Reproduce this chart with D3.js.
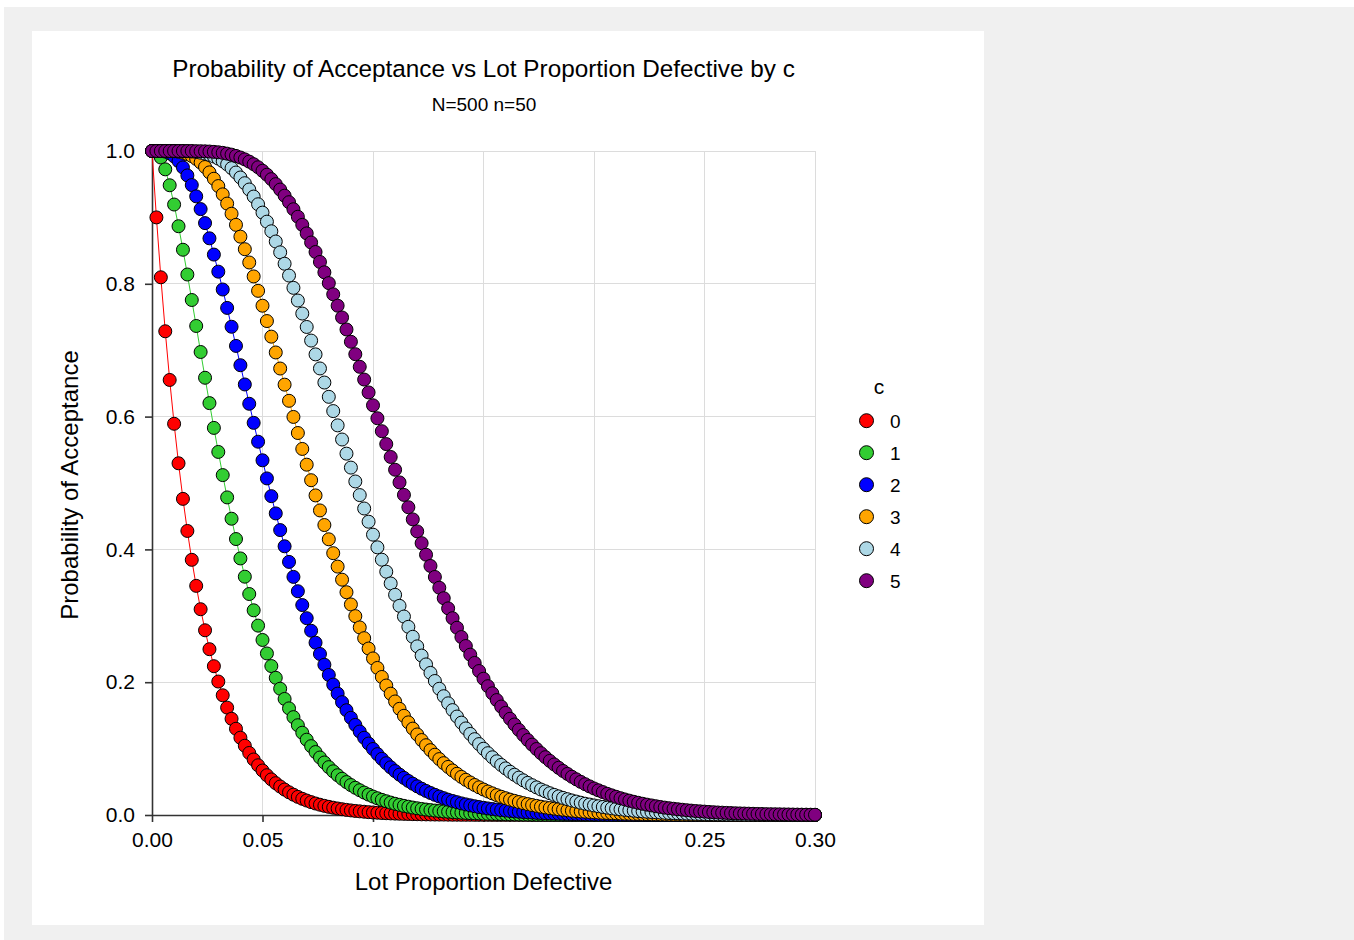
<!DOCTYPE html>
<html><head><meta charset="utf-8">
<script src="https://cdn.jsdelivr.net/npm/d3@7"></script>
<style>body{margin:0;background:#fff}svg{display:block}text{font-family:"Liberation Sans",Arial,sans-serif;fill:#000}</style>
</head><body><svg id="c" width="1354" height="940"></svg>
<script>
// Lot proportion defective (x values)
const p = [
0,0.002,0.004,0.006,0.008,0.01,0.012,0.014,0.016,0.018,
0.02,0.022,0.024,0.026,0.028,0.03,0.032,0.034,0.036,0.038,
0.04,0.042,0.044,0.046,0.048,0.05,0.052,0.054,0.056,0.058,
0.06,0.062,0.064,0.066,0.068,0.07,0.072,0.074,0.076,0.078,
0.08,0.082,0.084,0.086,0.088,0.09,0.092,0.094,0.096,0.098,
0.1,0.102,0.104,0.106,0.108,0.11,0.112,0.114,0.116,0.118,
0.12,0.122,0.124,0.126,0.128,0.13,0.132,0.134,0.136,0.138,
0.14,0.142,0.144,0.146,0.148,0.15,0.152,0.154,0.156,0.158,
0.16,0.162,0.164,0.166,0.168,0.17,0.172,0.174,0.176,0.178,
0.18,0.182,0.184,0.186,0.188,0.19,0.192,0.194,0.196,0.198,
0.2,0.202,0.204,0.206,0.208,0.21,0.212,0.214,0.216,0.218,
0.22,0.222,0.224,0.226,0.228,0.23,0.232,0.234,0.236,0.238,
0.24,0.242,0.244,0.246,0.248,0.25,0.252,0.254,0.256,0.258,
0.26,0.262,0.264,0.266,0.268,0.27,0.272,0.274,0.276,0.278,
0.28,0.282,0.284,0.286,0.288,0.29,0.292,0.294,0.296,0.298,
0.3];
const c0 = [
1,0.9,0.8098,0.7285,0.6552,0.5892,0.5297,0.4761,0.4278,0.3843,
0.3451,0.3099,0.2782,0.2497,0.2241,0.2010,0.1803,0.1617,0.1449,0.1299,
0.1164,0.1043,0.0934,0.0836,0.0749,0.0670,0.0599,0.0536,0.0479,0.0429,
0.0383,0.0342,0.0306,0.0273,0.0244,0.0218,0.0194,0.0173,0.0155,0.0138,
0.0123,0.0110,0.0098,0.0087,0.0077,0.0069,0.0061,0.0055,0.0049,0.0043,
0.0038,0.0034,0.0030,0.0027,0.0024,0.0021,0.0019,0.0017,0.0015,0.0013,
0.0012,0.0010,0.0009,0.0008,0.0007,0.0006,0.0006,0.0005,0.0004,0.0004,
0.0003,0.0003,0.0003,0.0002,0.0002,0.0002,0.0002,0.0001,0.0001,0.0001,
0.0001,0.0001,0.0001,0.0001,0.0001,0.0001,0,0,0,0,
0,0,0,0,0,0,0,0,0,0,
0,0,0,0,0,0,0,0,0,0,
0,0,0,0,0,0,0,0,0,0,
0,0,0,0,0,0,0,0,0,0,
0,0,0,0,0,0,0,0,0,0,
0,0,0,0,0,0,0,0,0,0,
0];
const c1 = [
1,1,0.9902,0.9724,0.9484,0.9194,0.8867,0.8513,0.8140,0.7756,
0.7365,0.6973,0.6585,0.6203,0.5830,0.5468,0.5119,0.4783,0.4462,0.4156,
0.3864,0.3589,0.3328,0.3083,0.2852,0.2636,0.2433,0.2243,0.2066,0.1902,
0.1748,0.1606,0.1474,0.1352,0.1239,0.1134,0.1037,0.0948,0.0866,0.0791,
0.0721,0.0658,0.0599,0.0546,0.0496,0.0451,0.0410,0.0373,0.0338,0.0307,
0.0278,0.0252,0.0228,0.0207,0.0187,0.0169,0.0153,0.0138,0.0125,0.0112,
0.0101,0.0091,0.0082,0.0074,0.0067,0.0060,0.0054,0.0049,0.0044,0.0039,
0.0035,0.0032,0.0028,0.0025,0.0023,0.0020,0.0018,0.0016,0.0015,0.0013,
0.0012,0.0010,0.0009,0.0008,0.0007,0.0007,0.0006,0.0005,0.0005,0.0004,
0.0004,0.0003,0.0003,0.0003,0.0002,0.0002,0.0002,0.0002,0.0001,0.0001,
0.0001,0.0001,0.0001,0.0001,0.0001,0.0001,0.0001,0,0,0,
0,0,0,0,0,0,0,0,0,0,
0,0,0,0,0,0,0,0,0,0,
0,0,0,0,0,0,0,0,0,0,
0,0,0,0,0,0,0,0,0,0,
0];
const c2 = [
1,1,1,0.9991,0.9965,0.9918,0.9848,0.9753,0.9632,0.9487,
0.9317,0.9125,0.8914,0.8685,0.8440,0.8183,0.7914,0.7637,0.7353,0.7065,
0.6774,0.6484,0.6193,0.5906,0.5622,0.5342,0.5069,0.4802,0.4542,0.4291,
0.4047,0.3812,0.3586,0.3370,0.3162,0.2964,0.2775,0.2595,0.2425,0.2263,
0.2109,0.1964,0.1828,0.1699,0.1578,0.1464,0.1357,0.1257,0.1163,0.1076,
0.0994,0.0917,0.0846,0.0780,0.0718,0.0661,0.0608,0.0559,0.0513,0.0471,
0.0432,0.0396,0.0363,0.0332,0.0304,0.0278,0.0254,0.0231,0.0211,0.0193,
0.0175,0.0160,0.0145,0.0132,0.0120,0.0109,0.0099,0.0090,0.0082,0.0074,
0.0067,0.0061,0.0055,0.0050,0.0045,0.0041,0.0037,0.0033,0.0030,0.0027,
0.0024,0.0022,0.0020,0.0018,0.0016,0.0014,0.0013,0.0012,0.0010,0.0009,
0.0008,0.0007,0.0007,0.0006,0.0005,0.0005,0.0004,0.0004,0.0003,0.0003,
0.0003,0.0002,0.0002,0.0002,0.0002,0.0002,0.0001,0.0001,0.0001,0.0001,
0.0001,0.0001,0.0001,0.0001,0.0001,0,0,0,0,0,
0,0,0,0,0,0,0,0,0,0,
0,0,0,0,0,0,0,0,0,0,
0];
const c3 = [
1,1,1,1,0.9999,0.9996,0.9989,0.9975,0.9954,0.9924,
0.9881,0.9827,0.9759,0.9678,0.9582,0.9472,0.9347,0.9208,0.9055,0.8888,
0.8710,0.8521,0.8321,0.8111,0.7894,0.7670,0.7439,0.7204,0.6966,0.6724,
0.6481,0.6238,0.5995,0.5753,0.5513,0.5276,0.5042,0.4813,0.4587,0.4367,
0.4152,0.3943,0.3741,0.3544,0.3355,0.3171,0.2995,0.2825,0.2663,0.2507,
0.2358,0.2215,0.2079,0.1950,0.1827,0.1710,0.1599,0.1494,0.1395,0.1301,
0.1213,0.1129,0.1051,0.0977,0.0908,0.0842,0.0781,0.0724,0.0671,0.0621,
0.0574,0.0530,0.0490,0.0452,0.0417,0.0384,0.0354,0.0326,0.0299,0.0275,
0.0253,0.0232,0.0213,0.0195,0.0179,0.0164,0.0150,0.0137,0.0125,0.0114,
0.0104,0.0095,0.0087,0.0079,0.0072,0.0065,0.0059,0.0054,0.0049,0.0045,
0.0040,0.0037,0.0033,0.0030,0.0027,0.0025,0.0022,0.0020,0.0018,0.0016,
0.0015,0.0013,0.0012,0.0011,0.0010,0.0009,0.0008,0.0007,0.0006,0.0006,
0.0005,0.0005,0.0004,0.0004,0.0003,0.0003,0.0003,0.0002,0.0002,0.0002,
0.0002,0.0001,0.0001,0.0001,0.0001,0.0001,0.0001,0.0001,0.0001,0.0001,
0.0001,0,0,0,0,0,0,0,0,0,
0];
const c4 = [
1,1,1,1,1,1,1,0.9999,0.9997,0.9993,
0.9985,0.9975,0.9961,0.9942,0.9917,0.9886,0.9847,0.9799,0.9742,0.9676,
0.9601,0.9515,0.9420,0.9314,0.9198,0.9072,0.8936,0.8791,0.8637,0.8474,
0.8302,0.8124,0.7939,0.7748,0.7552,0.7350,0.7145,0.6937,0.6725,0.6513,
0.6298,0.6083,0.5868,0.5655,0.5442,0.5232,0.5023,0.4818,0.4616,0.4417,
0.4222,0.4031,0.3845,0.3664,0.3487,0.3316,0.3150,0.2989,0.2834,0.2684,
0.2540,0.2401,0.2268,0.2140,0.2018,0.1901,0.1789,0.1682,0.1580,0.1483,
0.1391,0.1304,0.1221,0.1142,0.1068,0.0998,0.0931,0.0869,0.0809,0.0754,
0.0702,0.0652,0.0606,0.0563,0.0522,0.0484,0.0449,0.0416,0.0384,0.0356,
0.0328,0.0303,0.0280,0.0258,0.0238,0.0219,0.0202,0.0185,0.0170,0.0157,
0.0144,0.0132,0.0121,0.0111,0.0101,0.0093,0.0085,0.0078,0.0071,0.0065,
0.0059,0.0054,0.0049,0.0045,0.0041,0.0037,0.0034,0.0030,0.0028,0.0025,
0.0023,0.0021,0.0019,0.0017,0.0015,0.0014,0.0012,0.0011,0.0010,0.0009,
0.0008,0.0007,0.0007,0.0006,0.0005,0.0005,0.0004,0.0004,0.0004,0.0003,
0.0003,0.0002,0.0002,0.0002,0.0002,0.0001,0.0001,0.0001,0.0001,0.0001,
0.0001];
const c5 = [
1,1,1,1,1,1,1,1,1,1,
0.9998,0.9997,0.9995,0.9992,0.9987,0.9981,0.9972,0.9960,0.9945,0.9926,
0.9902,0.9874,0.9840,0.9801,0.9755,0.9702,0.9643,0.9576,0.9501,0.9419,
0.9327,0.9229,0.9123,0.9010,0.8888,0.8759,0.8622,0.8479,0.8329,0.8173,
0.8010,0.7842,0.7670,0.7493,0.7312,0.7127,0.6940,0.6750,0.6558,0.6364,
0.6170,0.5975,0.5780,0.5586,0.5392,0.5200,0.5009,0.4821,0.4635,0.4452,
0.4271,0.4094,0.3920,0.3751,0.3585,0.3423,0.3265,0.3112,0.2964,0.2820,
0.2680,0.2545,0.2415,0.2290,0.2168,0.2052,0.1940,0.1833,0.1731,0.1633,
0.1538,0.1449,0.1363,0.1282,0.1204,0.1130,0.1060,0.0994,0.0931,0.0871,
0.0815,0.0761,0.0711,0.0663,0.0619,0.0576,0.0537,0.0499,0.0464,0.0431,
0.0400,0.0372,0.0345,0.0319,0.0296,0.0274,0.0253,0.0234,0.0216,0.0199,
0.0184,0.0169,0.0156,0.0144,0.0132,0.0121,0.0111,0.0102,0.0094,0.0086,
0.0079,0.0072,0.0066,0.0060,0.0055,0.0051,0.0046,0.0042,0.0038,0.0035,
0.0032,0.0029,0.0026,0.0024,0.0022,0.0020,0.0018,0.0016,0.0015,0.0013,
0.0012,0.0011,0.0010,0.0009,0.0008,0.0007,0.0006,0.0005,0.0005,0.0004,
0.0004];

const seriesNames = ["0","1","2","3","4","5"];
const seriesValues = [c0,c1,c2,c3,c4,c5];
const seriesColors = ["#ff0000","#32cd32","#0000ff","#ffa500","#add8e6","#800080"];
const xTicks = [0,0.05,0.10,0.15,0.20,0.25,0.30];
const yTicks = [0,0.2,0.4,0.6,0.8,1.0];
const titleText = "Probability of Acceptance vs Lot Proportion Defective by c";
const subtitleText = "N=500 n=50";
const xTitle = "Lot Proportion Defective";
const yTitle = "Probability of Acceptance";
const legendTitle = "c";

const svg = d3.select("#c");
svg.append("rect").attr("x",4).attr("y",7).attr("width",1350).attr("height",933).attr("fill","#f0f0f0");
svg.append("rect").attr("x",32).attr("y",31).attr("width",952).attr("height",894).attr("fill","#ffffff");

const x = d3.scaleLinear().domain([0,0.3]).range([152,815]);
const y = d3.scaleLinear().domain([0,1]).range([815,151]);

// grid
const grid = svg.append("g").attr("stroke","#dcdcdc").attr("stroke-width",1).attr("shape-rendering","crispEdges");
grid.selectAll("line.v").data(xTicks.slice(1)).join("line").attr("class","v")
  .attr("x1",d=>x(d)).attr("x2",d=>x(d)).attr("y1",y(0)).attr("y2",y(1));
grid.selectAll("line.h").data(yTicks.slice(1)).join("line").attr("class","h")
  .attr("x1",x(0)).attr("x2",x(0.3)).attr("y1",d=>y(d)).attr("y2",d=>y(d));

// axes
const xAxis = svg.append("g").attr("transform",`translate(0,${y(0)})`)
  .call(d3.axisBottom(x).tickValues(xTicks).tickFormat(d3.format(".2f")).tickSizeInner(7).tickSizeOuter(0).tickPadding(10));
const yAxis = svg.append("g").attr("transform",`translate(${x(0)},0)`)
  .call(d3.axisLeft(y).tickValues(yTicks).tickFormat(d3.format(".1f")).tickSizeInner(7).tickSizeOuter(0).tickPadding(10));
[xAxis,yAxis].forEach(a=>{
  a.selectAll("path.domain").attr("stroke","#333").attr("stroke-width",1.6);
  a.selectAll(".tick line").attr("stroke","#333").attr("stroke-width",1.6);
  a.selectAll(".tick text").attr("font-size",21).attr("fill","#000")
    .style("font-family","'Liberation Sans',Arial,sans-serif");
});

// series
const line = d3.line().x((d,i)=>x(p[i])).y(d=>y(d));
seriesValues.forEach((vals,si)=>{
  const g = svg.append("g");
  g.append("path").datum(vals).attr("d",line).attr("fill","none")
    .attr("stroke",seriesColors[si]).attr("stroke-width",1);
  g.selectAll("circle").data(vals).join("circle")
    .attr("cx",(d,i)=>x(p[i])).attr("cy",d=>y(d)).attr("r",6.5)
    .attr("fill",seriesColors[si]).attr("stroke","#000").attr("stroke-width",1);
});

// titles
svg.append("text").attr("x",483.5).attr("y",77).attr("text-anchor","middle")
  .attr("font-size",24.3).text(titleText);
svg.append("text").attr("x",484).attr("y",111).attr("text-anchor","middle")
  .attr("font-size",19).text(subtitleText);
svg.append("text").attr("x",483.5).attr("y",890).attr("text-anchor","middle")
  .attr("font-size",24).text(xTitle);
svg.append("text").attr("transform","translate(78,485) rotate(-90)").attr("text-anchor","middle")
  .attr("font-size",24).text(yTitle);

// legend
const leg = svg.append("g");
leg.append("text").attr("x",879).attr("y",394).attr("text-anchor","middle").attr("font-size",21).text(legendTitle);
const items = leg.selectAll("g.item").data(seriesNames).join("g").attr("class","item")
  .attr("transform",(d,i)=>`translate(0,${420.7+32*i})`);
items.append("circle").attr("cx",866.5).attr("cy",0).attr("r",7)
  .attr("fill",(d,i)=>seriesColors[i]).attr("stroke","#000").attr("stroke-width",1);
items.append("text").attr("x",890).attr("y",7).attr("font-size",19).text(d=>d);
</script></body></html>
